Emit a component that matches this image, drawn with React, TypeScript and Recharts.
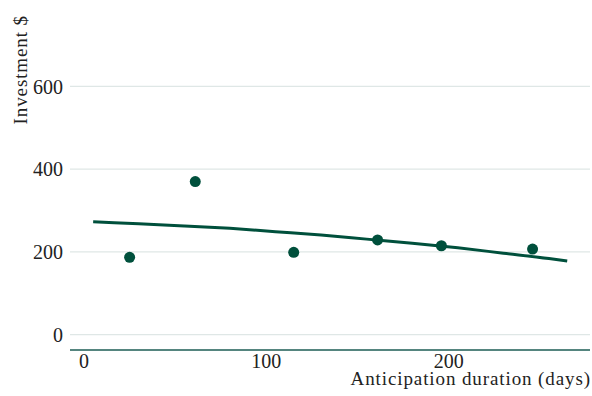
import { ComposedChart, Line, Scatter, XAxis, YAxis, ReferenceLine } from 'recharts';

// observed points (days, $)
const obsDays = [25, 61, 115, 161, 196, 246];
const obsInvest = [187, 370, 199, 229, 215, 207];

// fitted trend
const fitDays = [5, 30, 55, 80, 105, 130, 155, 180, 205, 230, 255, 265];
const fitInvest = [273, 268, 263, 257, 249, 241, 231, 221, 210, 197, 184, 178];

const yTicks = [0, 200, 400, 600];
const xTicks = [0, 100, 200];

const GREEN = '#00503c';
const FONT = '"Liberation Serif", serif';

const points = obsDays.map((d, i) => ({ days: d, invest: obsInvest[i] }));
const fit = fitDays.map((d, i) => ({ days: d, fit: fitInvest[i] }));

export default function App() {
  return (
    <div style={{ width: 592, height: 396, background: '#fff' }}>
      <style>{'body{margin:0}'}</style>
      <ComposedChart width={592} height={396} margin={{ top: 12, right: 2, bottom: 0, left: 0 }}>
        {yTicks.map((t) => (
          <ReferenceLine key={t} y={t} stroke="#dfe7e6" strokeWidth={1.3} />
        ))}
        <XAxis
          type="number"
          dataKey="days"
          domain={[-7.7, 277.5]}
          ticks={xTicks}
          allowDataOverflow
          height={46}
          tickLine={false}
          tickSize={0}
          tickMargin={4}
          axisLine={{ stroke: '#1d5c55', strokeWidth: 1.5 }}
          tick={{ fill: '#222', fontSize: 20, fontFamily: FONT }}
          label={{
            content: ({ viewBox }: any) => (
              <text
                x={viewBox.x + viewBox.width + 1}
                y={viewBox.y + viewBox.height - 11}
                textAnchor="end"
                fill="#222"
                fontSize={19}
                letterSpacing={0.9}
                fontFamily={FONT}
              >
                Anticipation duration (days)
              </text>
            ),
          }}
        />
        <YAxis
          type="number"
          domain={[-37, 780]}
          ticks={yTicks}
          allowDataOverflow
          width={70}
          tickLine={false}
          axisLine={false}
          tickSize={0}
          tickMargin={7}
          tick={{ fill: '#222', fontSize: 20, fontFamily: FONT }}
          label={{
            content: () => (
              <text
                x={27}
                y={15}
                transform="rotate(-90, 27, 15)"
                textAnchor="end"
                fill="#222"
                fontSize={19}
                letterSpacing={0.9}
                fontFamily={FONT}
              >
                Investment $
              </text>
            ),
          }}
        />
        <Line
          data={fit}
          dataKey="fit"
          type="monotone"
          stroke={GREEN}
          strokeWidth={3}
          dot={false}
          activeDot={false}
          isAnimationActive={false}
        />
        <Scatter
          data={points}
          dataKey="invest"
          fill={GREEN}
          shape={(p: any) => <circle cx={p.cx} cy={p.cy} r={5.5} fill={GREEN} />}
          isAnimationActive={false}
        />
      </ComposedChart>
    </div>
  );
}
